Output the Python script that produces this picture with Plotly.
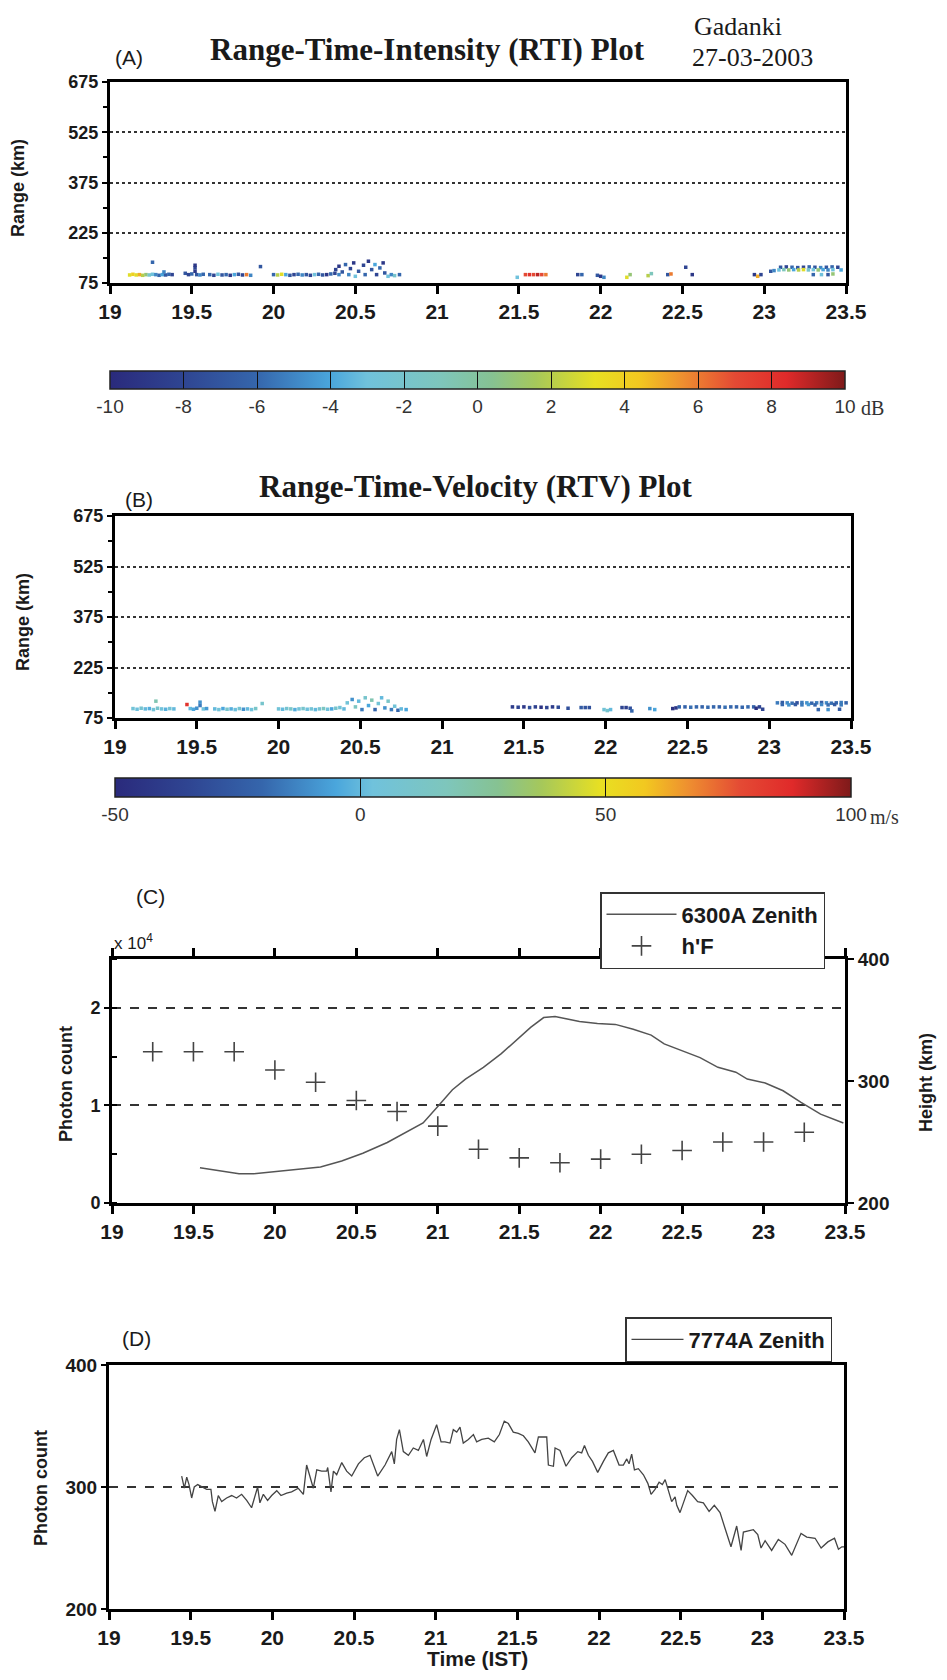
import plotly.graph_objects as go

# the page body has an 8 px margin, so the figure is drawn 8 px in from the corner
OFF = 8
W, H = 947 - 2 * OFF, 1680 - 2 * OFF


def px(x):
    return (x - OFF) / W


def py(y):
    return 1 - (y - OFF) / H


# ---- axis ticks / labels ----
x_ticks = [19, 19.5, 20, 20.5, 21, 21.5, 22, 22.5, 23, 23.5]
range_ticks = [75, 225, 375, 525, 675]
db_ticks = [-10, -8, -6, -4, -2, 0, 2, 4, 6, 8, 10]
db_labels = ['-10', '-8', '-6', '-4', '-2', '0', '2', '4', '6', '8', '10']
vel_ticks = [-50, 0, 50, 100]
vel_labels = ['-50', '0', '50', '100']
photon_ticks_c = [0, 10000, 20000]
photon_labels_c = ['0', '1', '2']
height_ticks = [200, 300, 400]
photon_ticks_d = [200, 300, 400]

# ---- (A) RTI echoes: time (h), range (km), SNR (dB) ----
rti_t = [19.12, 19.14, 19.16, 19.18, 19.20, 19.22, 19.24, 19.26, 19.28, 19.30, 19.32, 19.34, 19.36, 19.38,
         19.26, 19.33,
         19.46, 19.48, 19.50, 19.52, 19.52, 19.52, 19.53, 19.55, 19.57,
         19.61, 19.635, 19.66, 19.685, 19.71, 19.735, 19.76, 19.785, 19.81, 19.835, 19.86,
         19.92,
         20.0, 20.025, 20.05, 20.075, 20.1, 20.125, 20.15, 20.175, 20.2, 20.225, 20.25, 20.275, 20.3, 20.325,
         20.35, 20.375, 20.4,
         20.38, 20.40, 20.42, 20.44, 20.46, 20.47, 20.49, 20.50, 20.52, 20.55, 20.56, 20.58, 20.60, 20.62,
         20.63, 20.65, 20.67, 20.68, 20.70, 20.72, 20.74, 20.77,
         21.49, 21.54, 21.565, 21.59, 21.615, 21.64, 21.665,
         21.86, 21.885, 21.98, 22.0, 22.02, 22.16, 22.18, 22.29, 22.31, 22.41, 22.43, 22.52, 22.56,
         22.94, 22.96, 22.98, 23.04, 23.06,
         23.1, 23.135, 23.17, 23.205, 23.24, 23.275, 23.31, 23.345, 23.38, 23.415, 23.45,
         23.09, 23.12, 23.15, 23.18, 23.21, 23.24, 23.27, 23.30, 23.33, 23.36, 23.39, 23.42, 23.47,
         23.30, 23.35, 23.39, 23.42]
rti_r = [99, 101, 99, 100, 98, 100, 99, 101, 100, 98, 100, 99, 101, 100,
         137, 108,
         104, 100, 102, 110, 120, 128, 100, 99, 101,
         100, 98, 101, 99, 100, 98, 100, 101, 99, 100, 98,
         124,
         100, 99, 101, 100, 98, 100, 101, 99, 100, 98, 100, 101, 99, 100, 102, 104, 100,
         115, 125, 108, 130, 100, 118, 135, 95, 110, 128, 100, 140, 115, 130,
         100, 120, 135, 105, 95, 100, 97, 100,
         92, 100, 100, 100, 100, 100, 100,
         100, 100, 98, 95, 92, 92, 100, 97, 103, 100, 102, 122, 100,
         100, 95, 100, 110, 112,
         122, 123, 122, 121, 122, 123, 122, 121, 122, 123, 122,
         114, 115, 114, 115, 114, 115, 114, 115, 114, 115, 114, 115, 114,
         100, 100, 100, 102]
rti_db = [3, 4, 3, 5, 2, 1, -2, -3, -5, -6, -4, -7, -6, -8,
          -6, -5,
          -7, -8, -6, -9, -8, -9, -7, -5, -6,
          -6, -8, -3, -7, -6, -9, -4, -7, -8, 6, -5,
          -7,
          -6, 2, 3, -4, -7, -8, -6, -5, -7, -8, -3, -6, -7, -9, -6, -8, -5,
          -8, -9, -7, -6, -5, -8, -9, -3, -7, -8, -6, -9, -7, -4,
          -8, -6, -9, -7, -3, -5, -2, -6,
          -3, 7, 8, 7, 9, 7, 6,
          -8, -6, -7, -9, -5, 3, 1, 2, -1, -7, 6, -8, -9,
          -9, 5, -8, -7, -5,
          -7, -8, -6, -7, -8, -6, -7, -5, -7, -6, -8,
          -3, -1, 1, -4, 2, 3, -2, -3, 1, -4, -5, -3, -4,
          -6, -3, -7, 1]

# ---- (B) RTV echoes: time (h), range (km), Doppler velocity (m/s) ----
rtv_t = [19.11, 19.135, 19.16, 19.185, 19.21, 19.235, 19.26, 19.285, 19.31, 19.335, 19.36,
         19.25, 19.44,
         19.46, 19.48, 19.50, 19.52, 19.52, 19.54, 19.56,
         19.61, 19.635, 19.66, 19.685, 19.71, 19.735, 19.76, 19.785, 19.81, 19.835, 19.86,
         19.90,
         20.0, 20.025, 20.05, 20.075, 20.1, 20.125, 20.15, 20.175, 20.2, 20.225, 20.25, 20.275, 20.3, 20.325,
         20.35, 20.375, 20.4,
         20.42, 20.45, 20.47, 20.49, 20.51, 20.53, 20.55, 20.57, 20.59, 20.61, 20.63, 20.65, 20.67, 20.69,
         20.71, 20.73, 20.75, 20.78,
         21.43, 21.465, 21.5, 21.535, 21.57, 21.605, 21.64, 21.675, 21.71,
         21.77, 21.85, 21.875, 21.90, 21.99, 22.01, 22.03, 22.10, 22.125, 22.15, 22.16, 22.27, 22.30, 22.41, 22.43,
         22.45, 22.485, 22.52, 22.555, 22.59, 22.625, 22.66, 22.695, 22.73, 22.765, 22.8, 22.835, 22.87, 22.905,
         22.94, 22.92, 22.96,
         23.05, 23.08, 23.11, 23.14, 23.17, 23.2, 23.23, 23.26, 23.29, 23.32, 23.35, 23.38, 23.41, 23.44, 23.47,
         23.08, 23.12, 23.16, 23.2, 23.24, 23.28, 23.32, 23.36, 23.4, 23.44,
         23.30, 23.36, 23.43]
rtv_r = [103, 101, 104, 102, 103, 100, 104, 102, 101, 103, 102,
         125, 115,
         103, 101, 104, 112, 122, 102, 103,
         102, 100, 103, 101, 102, 100, 103, 101, 102, 100, 103,
         118,
         102, 101, 103, 102, 100, 102, 103, 101, 102, 100, 102, 103, 101, 102, 104, 106, 102,
         120, 130, 108, 125, 100, 135, 112, 128, 100, 118, 135, 105, 125, 100, 110, 98, 102, 100,
         108, 107, 108, 106, 108, 107, 106, 108, 107,
         104, 106, 106, 106, 100, 97, 100, 106, 106, 104, 96, 103, 100, 103, 105,
         108, 108, 107, 108, 108, 107, 108, 108, 107, 108, 108, 107, 108, 108, 108, 104, 101,
         120, 121, 120, 119, 120, 121, 120, 119, 120, 121, 120, 119, 120, 121, 120,
         115, 114, 115, 114, 115, 114, 115, 114, 115, 114,
         100, 100, 101]
rtv_v = [5, 2, 8, 0, -3, 5, 10, 3, -2, 6, 0,
         20, 85,
         0, -5, -10, -15, -10, 3, -8,
         0, 5, -5, 10, -3, 2, 8, -10, 0, 3, 12,
         10,
         5, 0, 8, 12, -3, 5, 10, 2, 6, 0, 8, 15, 3, -5, 10, 6, 0,
         5, -10, 15, 0, -15, 10, -5, 20, -20, 5, 0, -10, 12, -15, 5, -20, 0, -5,
         -40, -35, -42, -30, -38, -45, -35, -40, -32,
         -30, -25, -28, -30, 5, 10, 0, -35, -38, -30, -20, -10, -5, -45, -42,
         -20, -22, -18, -20, -21, -19, -20, -22, -18, -20, -21, -20, -19, -22, -35, -45, -35,
         -15, -25, -12, -18, -30, -15, -10, -20, -15, -25, -12, -18, -20, -15, -22,
         -20, -10, -25, -15, -8, -20, -12, -18, -25, -15,
         -20, -10, -25]

# ---- (C) 6300A zenith photon count and h'F ----
oi630_t = [19.54, 19.65, 19.78, 19.87, 20.0, 20.13, 20.28, 20.41, 20.54, 20.69, 20.83, 20.91, 21.0, 21.09,
           21.17, 21.28, 21.39, 21.5, 21.57, 21.65, 21.72, 21.78, 21.87, 21.98, 22.09, 22.2, 22.31, 22.39,
           22.53, 22.61, 22.72, 22.83, 22.9, 23.01, 23.12, 23.23, 23.35, 23.49]
oi630_count = [3600, 3300, 3000, 3000, 3200, 3400, 3700, 4300, 5100, 6200, 7500, 8200, 9900, 11600,
               12700, 13900, 15300, 17000, 18000, 19000, 19100, 18900, 18600, 18400, 18300, 17800, 17200,
               16300, 15400, 14900, 13900, 13400, 12700, 12300, 11500, 10300, 9100, 8200]
hf_t = [19.25, 19.5, 19.75, 20.0, 20.25, 20.5, 20.75, 21.0, 21.25, 21.5, 21.75, 22.0, 22.25, 22.5,
        22.75, 23.0, 23.25]
hf_km = [324, 324, 324, 309, 299, 284, 275, 263, 244, 237, 233, 236, 240, 243, 250, 250, 258]

# ---- (D) 7774A zenith photon count ----
oi777_t = [19.445, 19.461, 19.476, 19.49, 19.506, 19.522, 19.543, 19.567, 19.598, 19.624, 19.633, 19.649,
           19.669, 19.69, 19.72, 19.751, 19.781, 19.812, 19.843, 19.873, 19.894, 19.91, 19.924, 19.945,
           19.971, 19.996, 20.027, 20.053, 20.088, 20.118, 20.159, 20.19, 20.21, 20.231, 20.251, 20.272,
           20.302, 20.333, 20.339, 20.359, 20.374, 20.394, 20.425, 20.455, 20.486, 20.527, 20.563, 20.598,
           20.645, 20.69, 20.731, 20.747, 20.761, 20.778, 20.802, 20.833, 20.863, 20.894, 20.914, 20.925,
           20.945, 20.972, 21.006, 21.033, 21.057, 21.088, 21.108, 21.129, 21.149, 21.169, 21.2, 21.231,
           21.251, 21.282, 21.322, 21.359, 21.39, 21.42, 21.445, 21.475, 21.506, 21.537, 21.567, 21.608,
           21.629, 21.68, 21.69, 21.721, 21.731, 21.761, 21.798, 21.833, 21.87, 21.894, 21.911, 21.935,
           21.96, 21.992, 22.027, 22.057, 22.088, 22.123, 22.149, 22.17, 22.184, 22.2, 22.217, 22.241,
           22.272, 22.299, 22.319, 22.343, 22.368, 22.388, 22.405, 22.421, 22.445, 22.466, 22.476, 22.496,
           22.523, 22.543, 22.572, 22.604, 22.639, 22.674, 22.706, 22.741, 22.772, 22.808, 22.843, 22.857,
           22.87, 22.884, 22.915, 22.945, 22.972, 22.992, 23.017, 23.057, 23.098, 23.139, 23.18, 23.211,
           23.237, 23.272, 23.323, 23.36, 23.401, 23.442, 23.466, 23.487, 23.5]
oi777_count = [309, 299, 308, 302, 291, 300, 302, 300, 298, 298, 288, 280, 293, 288, 291, 293, 291, 294,
               289, 283, 292, 300, 287, 294, 289, 293, 297, 293, 295, 296, 299, 294, 318, 309, 299, 314,
               313, 313, 316, 296, 313, 310, 320, 313, 309, 319, 324, 326, 309, 318, 329, 319, 339, 347,
               329, 326, 332, 330, 336, 339, 325, 339, 351, 337, 337, 336, 347, 345, 349, 336, 339, 343,
               337, 339, 340, 337, 343, 354, 352, 345, 344, 342, 337, 328, 341, 341, 318, 317, 332, 330,
               317, 324, 329, 328, 334, 326, 321, 312, 321, 328, 330, 318, 318, 323, 319, 327, 314, 315,
               310, 303, 294, 298, 304, 302, 306, 299, 288, 292, 285, 279, 289, 297, 293, 288, 287, 280,
               285, 279, 266, 251, 268, 258, 248, 263, 264, 265, 261, 250, 256, 248, 257, 253, 244, 254,
               262, 259, 258, 250, 255, 258, 249, 251, 251]

# ---------------------------------------------------------------
SANS = "Liberation Sans, Arial, sans-serif"
SERIF = "Liberation Serif, Times New Roman, serif"

jet = [
    [0.00, '#2a2a7c'], [0.10, '#2f4592'], [0.20, '#3566ac'], [0.30, '#4aa6dc'],
    [0.35, '#70c2dc'], [0.45, '#7ec6bc'], [0.52, '#86c292'], [0.58, '#a6c85a'],
    [0.66, '#e8e022'], [0.72, '#f2c820'], [0.78, '#ee8e30'], [0.85, '#e44a34'],
    [0.92, '#e02a2a'], [1.00, '#7e1a1a'],
]

fig = go.Figure()

fig.add_trace(go.Scatter(
    x=rti_t, y=rti_r, mode='markers', showlegend=False,
    marker=dict(symbol='square', size=3.5, color=rti_db, coloraxis='coloraxis', line_width=0),
    xaxis='x', yaxis='y'))

fig.add_trace(go.Scatter(
    x=rtv_t, y=rtv_r, mode='markers', showlegend=False,
    marker=dict(symbol='square', size=3.5, color=rtv_v, coloraxis='coloraxis2', line_width=0),
    xaxis='x2', yaxis='y2'))

fig.add_trace(go.Scatter(
    x=oi630_t, y=oi630_count, mode='lines', name='6300A Zenith',
    line=dict(color='#555555', width=1.5), xaxis='x3', yaxis='y3', legend='legend'))

fig.add_trace(go.Scatter(
    x=hf_t, y=hf_km, mode='markers', name="h'F",
    marker=dict(symbol='cross-thin', size=14, line=dict(color='#444444', width=1.6)),
    xaxis='x3', yaxis='y4', legend='legend'))

fig.add_trace(go.Scatter(
    x=oi777_t, y=oi777_count, mode='lines', name='7774A Zenith',
    line=dict(color='#444444', width=1.3), xaxis='x4', yaxis='y5', legend='legend2'))

tickfont_x = dict(family=SANS, size=21, color='#1a1a1a', weight='bold')
tickfont_y = dict(family=SANS, size=18, color='#1a1a1a', weight='bold')

xcommon = dict(range=[19, 23.5], tickvals=x_ticks, ticks='outside', ticklen=8, tickwidth=3,
               tickcolor='black', showline=True, linewidth=3, linecolor='black', showgrid=False,
               zeroline=False, tickfont=tickfont_x, fixedrange=True)
yrange_common = dict(range=[75, 675], tickvals=range_ticks, ticks='outside', ticklen=5, tickwidth=2,
                     tickcolor='black', showline=True, linewidth=3, linecolor='black',
                     showgrid=True, gridcolor='#333333', griddash='dot', gridwidth=1.5,
                     zeroline=False, tickfont=tickfont_y, mirror=True,
                     minor=dict(ticks='outside', ticklen=4, tickwidth=2, dtick=75, tick0=75,
                                tickcolor='black', showgrid=False))

cbar_font = dict(family=SANS, size=19, color='#333333')

fig.update_layout(
    width=W, height=H,
    margin=dict(l=0, r=0, t=0, b=0, autoexpand=False),
    paper_bgcolor='white', plot_bgcolor='white',
    xaxis=dict(domain=[px(110), px(846)], anchor='y', mirror=True, **xcommon),
    yaxis=dict(domain=[py(283), py(82)], anchor='x', **yrange_common),
    xaxis2=dict(domain=[px(115), px(851)], anchor='y2', mirror=True, **xcommon),
    yaxis2=dict(domain=[py(718), py(516)], anchor='x2', **yrange_common),
    xaxis3=dict(domain=[px(112), px(845)], anchor='y3', mirror='ticks', **xcommon),
    yaxis3=dict(domain=[py(1203), py(959)], anchor='x3', range=[0, 25000],
                tickvals=photon_ticks_c, ticktext=photon_labels_c,
                ticks='outside', ticklen=5, tickwidth=2, tickcolor='black',
                showline=True, linewidth=3, linecolor='black',
                showgrid=True, gridcolor='#333333', griddash='dash', gridwidth=1.5,
                zeroline=False, tickfont=dict(family=SANS, size=18, color='#1a1a1a', weight='bold'),
                minor=dict(ticks='inside', ticklen=5, tickwidth=1.5, dtick=5000, tickcolor='black',
                           showgrid=False)),
    yaxis4=dict(overlaying='y3', anchor='x3', side='right', range=[200, 400],
                tickvals=height_ticks, ticks='outside', ticklen=6, tickwidth=2, tickcolor='black',
                showline=True, linewidth=3, linecolor='black', showgrid=False, zeroline=False,
                tickfont=dict(family=SANS, size=19, color='#1a1a1a', weight='bold')),
    xaxis4=dict(domain=[px(109), px(844)], anchor='y5', mirror=True, **xcommon),
    yaxis5=dict(domain=[py(1609), py(1365)], anchor='x4', range=[200, 400],
                tickvals=photon_ticks_d, ticks='outside', ticklen=5, tickwidth=2, tickcolor='black',
                showline=True, linewidth=3, linecolor='black', mirror=True,
                showgrid=True, gridcolor='#333333', griddash='dash', gridwidth=1.5, zeroline=False,
                tickfont=dict(family=SANS, size=19, color='#1a1a1a', weight='bold')),
    coloraxis=dict(cmin=-10, cmax=10, colorscale=jet,
                   colorbar=dict(orientation='h', x=px(477.5), xanchor='center', y=py(371),
                                 yanchor='top', len=735 / W, lenmode='fraction', thickness=18,
                                 outlinewidth=1.5, outlinecolor='#222222', ticks='inside', ticklen=18,
                                 tickwidth=1.2, tickcolor='#111111', tickvals=db_ticks,
                                 ticktext=db_labels, tickfont=cbar_font, xpad=0, ypad=0)),
    coloraxis2=dict(cmin=-50, cmax=100, colorscale=jet,
                    colorbar=dict(orientation='h', x=px(483), xanchor='center', y=py(778),
                                  yanchor='top', len=736 / W, lenmode='fraction', thickness=19,
                                  outlinewidth=1.5, outlinecolor='#222222', ticks='inside', ticklen=19,
                                  tickwidth=1.2, tickcolor='#111111', tickvals=vel_ticks,
                                  ticktext=vel_labels, tickfont=cbar_font, xpad=0, ypad=0)),
    legend=dict(x=px(600), xanchor='left', y=py(892), yanchor='top', bgcolor='white',
                bordercolor='#333333', borderwidth=1.5, itemwidth=70,
                font=dict(family=SANS, size=22, color='#1a1a1a', weight='bold'),
                tracegroupgap=0),
    legend2=dict(x=px(625), xanchor='left', y=py(1317), yanchor='top', bgcolor='white',
                 bordercolor='#333333', borderwidth=1.5, itemwidth=52,
                 font=dict(family=SANS, size=22, color='#1a1a1a', weight='bold')),
)

ann = []


def note(x, y, text, font, angle=0, xanchor='center'):
    ann.append(dict(x=px(x), y=py(y), xref='paper', yref='paper', text=text, showarrow=False,
                    xanchor=xanchor, yanchor='middle', textangle=angle, font=font))


title_font = dict(family=SERIF, size=31, color='#1a1a1a', weight='bold')
label_font = dict(family=SANS, size=21, color='#1a1a1a')
axis_font = dict(family=SANS, size=18, color='#1a1a1a', weight='bold')
date_font = dict(family=SERIF, size=26, color='#1a1a1a')

note(427, 50, 'Range-Time-Intensity (RTI) Plot', title_font)
note(129, 57, '(A)', label_font)
note(692, 26, 'Gadanki', date_font, xanchor='left')
note(690, 58, '27-03-2003', date_font, xanchor='left')
note(18, 188, 'Range (km)', axis_font, angle=-90)
note(859, 408, 'dB', dict(family=SERIF, size=20, color='#333333'), xanchor='left')

note(476, 487, 'Range-Time-Velocity (RTV) Plot', title_font)
note(139, 500, '(B)', label_font)
note(23, 622, 'Range (km)', axis_font, angle=-90)
note(868, 817, 'm/s', dict(family=SERIF, size=20, color='#333333'), xanchor='left')

note(150, 896, '(C)', label_font)
note(112, 942, 'x 10<sup>4</sup>', dict(family=SANS, size=17, color='#1a1a1a'), xanchor='left')
note(66, 1084, 'Photon count', axis_font, angle=-90)
note(926, 1083, 'Height (km)', axis_font, angle=-90)

note(136, 1338, '(D)', label_font)
note(41, 1488, 'Photon count', axis_font, angle=-90)
note(477, 1658, 'Time (IST)', dict(family=SANS, size=21, color='#1a1a1a', weight='bold'))

fig.update_layout(annotations=ann)

fig.write_html("out.html")
